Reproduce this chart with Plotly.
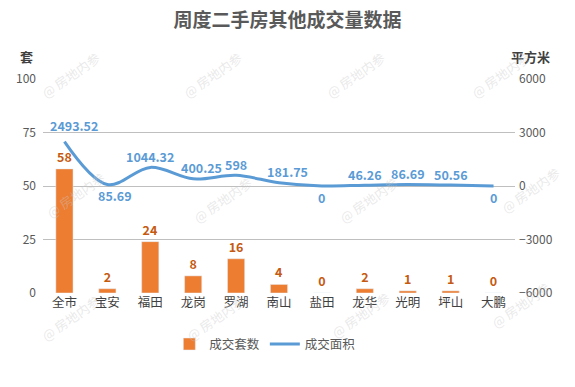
import plotly.graph_objects as go

categories = ["全市", "宝安", "福田", "龙岗", "罗湖", "南山", "盐田", "龙华", "光明", "坪山", "大鹏"]
units = [58, 2, 24, 8, 16, 4, 0, 2, 1, 1, 0]
area = [2493.52, 85.69, 1044.32, 400.25, 598, 181.75, 0, 46.26, 86.69, 50.56, 0]
area_labels = ["2493.52", "85.69", "1044.32", "400.25", "598", "181.75", "0", "46.26", "86.69", "50.56", "0"]
left_ticks = [0, 25, 50, 75, 100]
right_ticks = [-6000, -3000, 0, 3000, 6000]

# label placement style (above > 0, below < 0), horizontal nudges
area_label_side = [1.5, -1, 1, 1, 1, 1, -1, 1, 1, 1, -1]
area_label_dx = [10, 8, 0, 8, 0, 8, 0, 0, 0, 0, 0]

font_family = "Microsoft YaHei, Noto Sans CJK SC, sans-serif"

fig = go.Figure()
fig.add_trace(go.Bar(
    x=categories, y=units, name="成交套数",
    marker=dict(color="#ed7d31"),
    text=["<b>%d</b>" % v for v in units], textposition="outside",
    textfont=dict(color="#c55a11", size=12.5, family=font_family),
    cliponaxis=False, yaxis="y",
))
fig.add_trace(go.Scatter(
    x=categories, y=area, name="成交面积", mode="lines",
    line=dict(color="#5b9bd5", width=3, shape="spline", smoothing=1.0),
    cliponaxis=False, yaxis="y2",
))

annotations = []
for c, v, t, s, dx in zip(categories, area, area_labels, area_label_side, area_label_dx):
    annotations.append(dict(
        x=c, y=v, xref="x", yref="y2", text="<b>%s</b>" % t, showarrow=False,
        yshift=11 * s, xshift=dx, xanchor="center", yanchor="middle",
        font=dict(color="#5b9bd5", size=12.5, family=font_family),
    ))

annotations.append(dict(text="<b>套</b>", xref="paper", yref="paper", x=-0.036, y=1.103,
                        xanchor="center", yanchor="middle",
                        showarrow=False, font=dict(size=13, color="#404040")))
annotations.append(dict(text="<b>平方米</b>", xref="paper", yref="paper", x=1.032, y=1.103,
                        xanchor="center", yanchor="middle",
                        showarrow=False, font=dict(size=13, color="#404040")))

# watermarks
wm_positions = [(70, 75), (212, 75), (355, 75), (500, 75),
                (75, 195), (222, 200), (368, 200), (530, 190),
                (70, 318), (215, 318), (360, 315), (520, 305)]
for (px, py) in wm_positions:
    annotations.append(dict(
        text="@ 房地内参", xref="paper", yref="paper",
        x=(px - 43) / 472, y=(293 - py) / 214, showarrow=False, textangle=-35,
        xanchor="center", yanchor="middle",
        font=dict(size=13, color="rgba(200,200,200,0.4)", family=font_family),
    ))

fig.update_layout(
    width=575, height=387,
    margin=dict(l=43, r=60, t=79, b=94, autoexpand=False),
    plot_bgcolor="white", paper_bgcolor="white",
    font=dict(family=font_family, color="#595959", size=12),
    title=dict(text="<b>周度二手房其他成交量数据</b>", x=0.5, xanchor="center", y=0.948, yanchor="middle",
               font=dict(size=19, color="#595959", family=font_family)),
    xaxis=dict(showgrid=False, showline=False, ticks="", tickfont=dict(size=12.5, color="#404040"),
               domain=[0, 1]),
    yaxis=dict(range=[0, 100], tickvals=left_ticks, showgrid=True, gridcolor="#bfbfbf", gridwidth=1,
               zeroline=False, showline=False, tickfont=dict(size=12, color="#595959"), ticks="",
               ticklabelstandoff=6),
    yaxis2=dict(range=[-6000, 6000], tickvals=right_ticks, overlaying="y", side="right",
                showgrid=False, zeroline=False, showline=False,
                tickfont=dict(size=12, color="#595959"), ticks="", ticklabelstandoff=3),
    bargap=0.6,
    showlegend=True,
    legend=dict(orientation="h", x=0.47, xanchor="center", y=-0.17, yanchor="top",
                font=dict(size=12.5, color="#595959")),
    annotations=annotations,
)

fig.write_html("out.html", config={"displayModeBar": False},
               post_script="document.body.style.margin='0';")
